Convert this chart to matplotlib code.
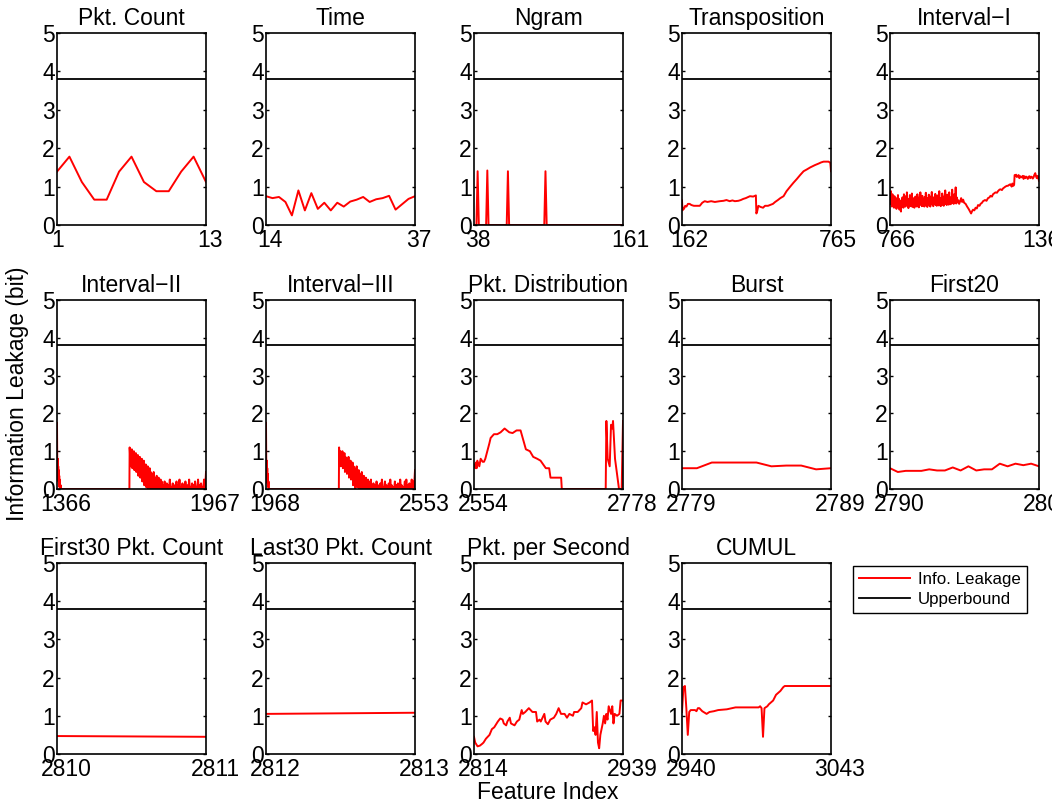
import matplotlib
matplotlib.use("Agg")
import matplotlib.pyplot as plt
from matplotlib.transforms import ScaledTranslation
import numpy as np

plt.rcParams['font.family'] = ['Liberation Sans', 'DejaVu Sans']

upper = 3.807

titles = ['Pkt. Count', 'Time', 'Ngram', 'Transposition', 'Interval\u2212I',
          'Interval\u2212II', 'Interval\u2212III', 'Pkt. Distribution', 'Burst', 'First20',
          'First30 Pkt. Count', 'Last30 Pkt. Count', 'Pkt. per Second', 'CUMUL']
ranges = [(1, 13), (14, 37), (38, 161), (162, 765), (766, 1365),
          (1366, 1967), (1968, 2553), (2554, 2778), (2779, 2789), (2790, 2809),
          (2810, 2811), (2812, 2813), (2814, 2939), (2940, 3043)]

# --- per-feature-set leakage values ---
pkt_count = [1.39, 1.78, 1.12, 0.66, 0.66, 1.39, 1.78, 1.12, 0.88, 0.88, 1.39, 1.78, 1.12]

time_vals = [0.75, 0.70, 0.73, 0.60, 0.25, 0.90, 0.38, 0.83, 0.42, 0.58, 0.38, 0.58,
             0.48, 0.61, 0.66, 0.73, 0.60, 0.67, 0.70, 0.76, 0.40, 0.54, 0.68, 0.75]

ngram_spikes = {41: 1.40, 49: 1.42, 66: 1.40, 97: 1.40}

trans_x = [162, 164, 167, 170, 175, 180, 186, 193, 200, 210, 220, 234, 244, 254, 265, 280,
           295, 315, 330, 342, 355, 366, 376, 390, 400, 410, 420, 437, 450, 461, 463, 466,
           471, 480, 490, 498, 510, 518, 530, 539, 550, 560, 573, 585, 600, 613, 627, 640,
           654, 668, 681, 700, 715, 725, 735, 755, 762, 765]
trans_y = [0.64, 0.38, 0.45, 0.42, 0.50, 0.48, 0.55, 0.55, 0.52, 0.50, 0.50, 0.50, 0.58,
           0.62, 0.60, 0.62, 0.60, 0.62, 0.63, 0.65, 0.62, 0.64, 0.62, 0.63, 0.65, 0.68,
           0.70, 0.75, 0.74, 0.77, 0.30, 0.35, 0.50, 0.47, 0.45, 0.50, 0.50, 0.52, 0.55,
           0.60, 0.65, 0.70, 0.75, 0.88, 1.00, 1.10, 1.20, 1.30, 1.40, 1.45, 1.50, 1.56,
           1.60, 1.63, 1.65, 1.65, 1.62, 1.40]

int1_noise = [0.72, 0.55, 0.88, 0.60, 0.48, 0.80, 0.52, 0.66, 0.45, 0.75, 0.58, 0.50, 0.70,
              0.42, 0.62, 0.55, 0.78, 0.48, 0.68, 0.40, 0.60, 0.52, 0.35, 0.65, 0.50, 0.72,
              0.58, 0.45, 0.80, 0.55, 0.62, 0.48, 0.75, 0.52, 0.85, 0.50, 0.68, 0.44, 0.60,
              0.53, 0.78, 0.49, 0.66, 0.56, 0.82, 0.47, 0.62, 0.55, 0.70, 0.45, 0.58, 0.74,
              0.50, 0.63, 0.48, 0.80, 0.54, 0.67, 0.46, 0.72, 0.52, 0.85, 0.55, 0.62, 0.49,
              0.76, 0.51, 0.66, 0.57, 0.48, 0.73, 0.55, 0.84, 0.50, 0.64, 0.47, 0.70, 0.56,
              0.79, 0.52, 0.61, 0.48, 0.74, 0.58, 0.86, 0.53, 0.65, 0.49, 0.72, 0.55, 0.60,
              0.81, 0.52, 0.68, 0.50, 0.77, 0.56, 0.63, 0.51, 0.88, 0.54, 0.70, 0.49, 0.66,
              0.57, 0.82, 0.53, 0.62, 0.50, 0.75, 0.58, 0.90, 0.55, 0.68, 0.52, 0.79, 0.57,
              0.64, 0.53, 0.85, 0.56, 0.72, 0.54, 0.66, 0.60, 0.92, 0.57, 0.70, 0.55, 0.80,
              0.58, 0.65, 0.98, 0.56, 0.72, 0.60, 0.66, 0.58, 0.62, 0.55]
int1_tail_x = [1048, 1052, 1056, 1060, 1064, 1070, 1076, 1082, 1088, 1092, 1096, 1100, 1105,
               1110, 1115, 1120, 1126, 1130, 1136, 1140, 1148, 1154, 1160, 1166, 1170, 1176,
               1180, 1186, 1190, 1196, 1200, 1206, 1210, 1216, 1220, 1226, 1230, 1236, 1240,
               1246, 1250, 1255, 1258, 1262, 1265, 1267, 1270, 1273, 1276, 1280, 1283, 1286,
               1290, 1293, 1296, 1300, 1303, 1306, 1310, 1313, 1316, 1320, 1323, 1326, 1330,
               1333, 1336, 1340, 1343, 1346, 1350, 1353, 1356, 1360, 1363, 1365]
int1_tail_y = [0.62, 0.70, 0.60, 0.66, 0.58, 0.55, 0.48, 0.42, 0.35, 0.30, 0.36, 0.40, 0.38,
               0.45, 0.43, 0.52, 0.50, 0.55, 0.58, 0.62, 0.65, 0.63, 0.70, 0.72, 0.76, 0.74,
               0.80, 0.83, 0.85, 0.84, 0.88, 0.92, 0.93, 0.91, 0.95, 0.98, 1.00, 1.02, 1.02,
               1.05, 1.06, 1.00, 1.08, 1.02, 1.05, 1.30, 1.28, 1.31, 1.25, 1.28, 1.30, 1.22,
               1.27, 1.24, 1.25, 1.28, 1.20, 1.27, 1.22, 1.26, 1.25, 1.20, 1.24, 1.27, 1.22,
               1.26, 1.25, 1.21, 1.24, 1.30, 1.35, 1.27, 1.22, 1.28, 1.20, 1.15]

int2_head_x = [1366, 1367, 1368, 1369, 1370, 1371, 1372, 1373, 1374, 1375, 1376, 1377, 1379,
               1381, 1383, 1658, 1659]
int2_head_y = [1.75, 0.80, 0.55, 0.80, 0.30, 0.60, 0.20, 0.50, 0.15, 0.35, 0.05, 0.25, 0.00,
               0.10, 0.00, 0.00, 1.10]
int2_decay = [1.00, 0.60, 0.95, 0.70, 1.05, 0.55, 0.90, 0.75, 1.00, 0.50, 0.85, 0.65, 0.95,
              0.45, 0.80, 0.60, 0.90, 0.35, 0.75, 0.55, 0.85, 0.30, 0.70, 0.50, 0.80, 0.20,
              0.70, 0.40, 0.75, 0.10, 0.60, 0.30, 0.65, 0.05, 0.55, 0.25, 0.60, 0.00, 0.50,
              0.20, 0.55, 0.00, 0.45, 0.15, 0.40, 0.00, 0.35, 0.10, 0.45, 0.00, 0.30, 0.05,
              0.25, 0.00, 0.35, 0.00, 0.20, 0.05, 0.30, 0.00, 0.15, 0.00, 0.25, 0.00, 0.20]
int2_low = [0.00, 0.10, 0.00, 0.20, 0.00, 0.05, 0.15, 0.00, 0.10, 0.00, 0.25, 0.00, 0.05,
            0.00, 0.15, 0.00, 0.10, 0.00, 0.05, 0.20, 0.00, 0.10, 0.00, 0.25, 0.00, 0.05,
            0.00, 0.15, 0.00, 0.10, 0.00, 0.20, 0.05, 0.00, 0.10, 0.00, 0.25, 0.00, 0.05,
            0.00, 0.15, 0.00, 0.10, 0.00, 0.20, 0.00, 0.05, 0.00, 0.25, 0.00, 0.10, 0.00,
            0.15, 0.00, 0.05, 0.00, 0.25, 0.00, 0.20, 0.45]

int3_head_x = [1968, 1969, 1970, 1971, 1972, 1973, 1974, 1975, 1976, 1978, 1980, 2254, 2255]
int3_head_y = [1.75, 0.80, 0.50, 0.75, 0.30, 0.55, 0.15, 0.40, 0.05, 0.20, 0.00, 0.00, 1.10]
int3_decay = [0.95, 0.65, 1.00, 0.60, 0.90, 0.70, 1.00, 0.55, 0.85, 0.70, 0.95, 0.45, 0.85,
              0.55, 0.80, 0.40, 0.75, 0.60, 0.85, 0.30, 0.70, 0.45, 0.75, 0.25, 0.65, 0.35,
              0.70, 0.10, 0.60, 0.30, 0.55, 0.00, 0.50, 0.20, 0.60, 0.05, 0.45, 0.15, 0.50,
              0.00, 0.40, 0.10, 0.35, 0.00, 0.45, 0.05, 0.30, 0.00, 0.35, 0.00, 0.25, 0.10,
              0.30, 0.00, 0.20, 0.00, 0.25, 0.05, 0.15, 0.00, 0.20, 0.00, 0.25, 0.00, 0.10]
int3_low = [0.00, 0.15, 0.00, 0.10, 0.00, 0.20, 0.05, 0.00, 0.10, 0.00, 0.15, 0.00, 0.25,
            0.00, 0.05, 0.00, 0.20, 0.00, 0.10, 0.00, 0.05, 0.15, 0.00, 0.25, 0.00, 0.10,
            0.00, 0.05, 0.00, 0.20, 0.00, 0.10, 0.00, 0.15, 0.05, 0.00, 0.25, 0.00, 0.10,
            0.00, 0.05, 0.00, 0.20, 0.00, 0.25, 0.00, 0.10, 0.00, 0.15, 0.00, 0.05, 0.25,
            0.00, 0.20, 0.00, 0.50]

dist_x = [2554, 2556, 2557, 2558, 2559, 2562, 2564, 2567, 2569, 2571, 2574, 2577, 2579, 2584,
          2589, 2594, 2600, 2607, 2612, 2618, 2624, 2628, 2632, 2638, 2643, 2649, 2654, 2662,
          2667, 2669, 2685, 2686, 2752, 2753, 2755, 2758, 2760, 2762, 2763, 2766, 2772, 2776,
          2778]
dist_y = [0.65, 0.55, 0.70, 0.55, 0.75, 0.60, 0.80, 0.72, 0.72, 0.80, 1.00, 1.20, 1.35, 1.45,
          1.45, 1.50, 1.60, 1.50, 1.48, 1.55, 1.55, 1.30, 1.05, 1.00, 0.85, 0.80, 0.75, 0.55,
          0.55, 0.30, 0.30, 0.00, 0.00, 1.80, 0.80, 0.60, 1.70, 1.60, 1.80, 0.80, 0.00, 0.00,
          1.80]

burst = [0.55, 0.55, 0.70, 0.70, 0.70, 0.70, 0.60, 0.62, 0.62, 0.52, 0.55]
first20 = [0.55, 0.45, 0.48, 0.48, 0.48, 0.52, 0.49, 0.49, 0.57, 0.49, 0.60, 0.49, 0.52, 0.52,
           0.67, 0.60, 0.67, 0.63, 0.67, 0.60]
first30 = [0.47, 0.45]
last30 = [1.05, 1.08]

pps_x = [2814, 2815, 2817, 2819, 2821, 2822, 2824, 2827, 2829, 2831, 2834, 2836, 2838, 2839,
         2841, 2842, 2844, 2845, 2848, 2850, 2852, 2854, 2855, 2857, 2860, 2863, 2866, 2867,
         2869, 2870, 2873, 2874, 2876, 2878, 2881, 2883, 2885, 2887, 2890, 2892, 2894, 2897,
         2898, 2901, 2904, 2905, 2908, 2911, 2913, 2914, 2915, 2916, 2917, 2918, 2919, 2920,
         2922, 2923, 2924, 2925, 2926, 2927, 2929, 2930, 2931, 2932, 2934, 2936, 2937, 2939]
pps_y = [0.45, 0.30, 0.20, 0.22, 0.27, 0.30, 0.40, 0.50, 0.65, 0.70, 0.85, 0.93, 0.90, 0.80,
         0.75, 0.85, 0.95, 0.80, 0.75, 0.85, 0.90, 1.15, 1.05, 1.10, 1.20, 1.10, 1.10, 0.85,
         0.90, 0.85, 1.05, 0.85, 0.78, 0.90, 0.95, 1.05, 1.20, 1.05, 1.05, 0.95, 1.05, 1.00,
         1.10, 1.10, 1.20, 1.35, 1.30, 1.35, 1.40, 0.60, 0.70, 0.50, 1.10, 0.30, 0.15, 0.50,
         0.80, 1.00, 0.80, 1.05, 0.90, 1.25, 1.05, 1.25, 0.80, 1.05, 1.00, 1.05, 1.40, 1.40]

cumul_x = [2940, 2941, 2942, 2943, 2944, 2945, 2946, 2948, 2949, 2950, 2951, 2952, 2954, 2957,
           2959, 2962, 2965, 2971, 2977, 2985, 2993, 2994, 2995, 2996, 2997, 2999, 3000, 3003,
           3005, 3008, 3010, 3011, 3043]
cumul_y = [1.10, 1.75, 1.78, 1.20, 0.50, 1.10, 1.15, 1.15, 1.15, 1.12, 1.20, 1.20, 1.12, 1.05,
           1.10, 1.12, 1.15, 1.17, 1.22, 1.22, 1.22, 1.25, 1.20, 0.45, 1.20, 1.25, 1.30, 1.40,
           1.55, 1.65, 1.75, 1.78, 1.78]


def seq(start, step, vals):
    return list(start + step * np.arange(len(vals)))


ngram_x = list(range(38, 162))
ngram_y = [ngram_spikes.get(i, 0.0) for i in ngram_x]

series = [
    (list(range(1, 14)), pkt_count),
    (list(range(14, 38)), time_vals),
    (ngram_x, ngram_y),
    (trans_x, trans_y),
    (seq(766, 2, int1_noise) + int1_tail_x, int1_noise + int1_tail_y),
    (int2_head_x + seq(1660, 2, int2_decay) + seq(1791, 3, int2_low[:-1]) + [1967],
     int2_head_y + int2_decay + int2_low),
    (int3_head_x + seq(2256, 2, int3_decay) + seq(2387, 3, int3_low[:-1]) + [2553],
     int3_head_y + int3_decay + int3_low),
    (dist_x, dist_y),
    (list(range(2779, 2790)), burst),
    (list(range(2790, 2810)), first20),
    ([2810, 2811], first30),
    ([2812, 2813], last30),
    (pps_x, pps_y),
    (cumul_x, cumul_y),
]

W, H = 1052, 805
fig = plt.figure(figsize=(W / 100, H / 100), dpi=100)

rows = [(33, 225), (300, 489), (563, 754)]
lefts = [57, 266, 474, 682, 890]
aw = 149
fs = 16.5
shift = {1: 1, 2: 4, 3: 7, 4: 9}   # MATLAB-like offset of the x tick labels, px

for k, (title, (lo, hi), (xs, ys)) in enumerate(zip(titles, ranges, series)):
    r, c = divmod(k, 5)
    top, bot = rows[r]
    ax = fig.add_axes([lefts[c] / W, 1 - bot / H, aw / W, (bot - top) / H])
    l1, = ax.plot(xs, ys, color='red', lw=1.4, label='Info. Leakage')
    l2, = ax.plot([lo, hi], [upper, upper], color='black', lw=1.3, label='Upperbound')
    ax.set_xlim(lo, hi)
    ax.set_ylim(0, 5)
    ax.set_xticks([lo, hi])
    ax.set_xticklabels([str(lo), str(hi)])
    ax.set_yticks(range(6))
    ax.tick_params(direction='in', length=2.5, width=1, labelsize=fs, right=True,
                   pad=1.5)
    ax.tick_params(axis='x', length=0, pad=3)
    for lab in ax.get_xticklabels():
        dx = shift[len(lab.get_text())]
        lab.set_transform(lab.get_transform() +
                          ScaledTranslation(dx / 100, 0, fig.dpi_scale_trans))
    for s in ax.spines.values():
        s.set_linewidth(1.2)
    ax.set_title(title, fontsize=fs, pad=6)

fig.legend([l1, l2], ['Info. Leakage', 'Upperbound'], loc='upper left',
           bbox_to_anchor=(853 / W, 1 - 566 / H), fontsize=12.2, frameon=True,
           fancybox=False, edgecolor='black', framealpha=1, handlelength=3.0,
           handletextpad=0.5, borderpad=0.35, labelspacing=0.3, borderaxespad=0)

fig.text(18 / W, 1 - 394 / H, 'Information Leakage (bit)', rotation=90,
         ha='center', va='center', fontsize=fs)
fig.text(548 / W, 1 - 792 / H, 'Feature Index', ha='center', va='center', fontsize=fs)

fig.savefig('out.png', dpi=100)
